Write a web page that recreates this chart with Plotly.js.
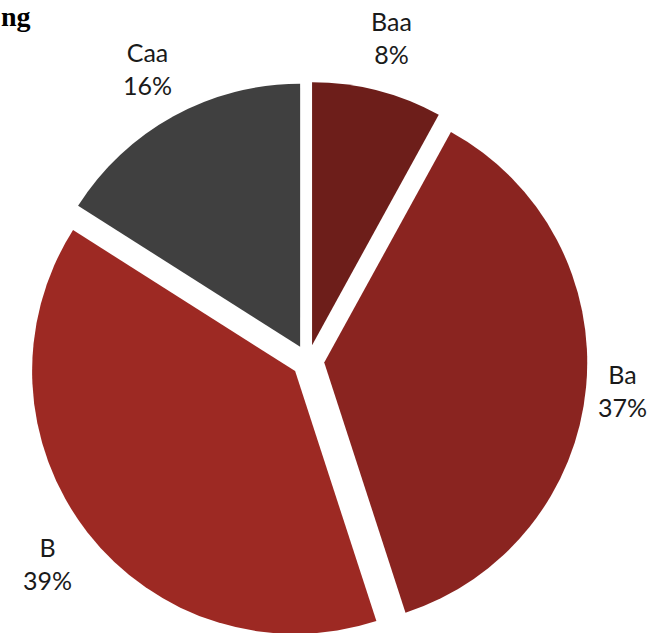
<!DOCTYPE html>
<html>
<head>
<meta charset="utf-8">
<script src="https://cdn.plot.ly/plotly-3.0.1.min.js"></script>
<style>
  html, body { margin: 0; padding: 0; overflow: hidden; background: #ffffff; }
  #chart { width: 664px; height: 650px; }
</style>
</head>
<body>
<div id="chart"></div>
<script>
// ---- data ----
const categories = ["Baa", "Ba", "B", "Caa"];
const shares = [8, 37, 39, 16];
const sliceColors = ["#6d1e1a", "#8a2420", "#9d2923", "#404040"];
const titleText = "ng";

// ---- layout constants (pixels) ----
const W = 664, H = 650;
const CX = 308, CY = 361, R = 263, PULL = 0.062;
const half = R * (1 + PULL);

const domainX = [(CX - half) / W, (CX + half) / W];
const domainY = [(H - (CY + half)) / H, (H - (CY - half)) / H];

const trace = {
  type: "pie",
  labels: categories,
  values: shares,
  sort: false,
  direction: "clockwise",
  rotation: 0,
  pull: categories.map(() => PULL),
  marker: { colors: sliceColors, line: { width: 0 } },
  textinfo: "none",
  hoverinfo: "none",
  showlegend: false,
  domain: { x: domainX, y: domainY }
};

// label annotations placed along each slice bisector, computed from data
const total = shares.reduce((a, b) => a + b, 0);
const annotations = [];
let cum = 0;
const gap = 20, hw = 14, hh = 32;
shares.forEach((v, i) => {
  const mid = (cum + v / 2) / total * 2 * Math.PI;
  cum += v;
  const sx = Math.sin(mid), sy = -Math.cos(mid);
  const ext = hw * Math.abs(sx) + hh * Math.abs(sy);
  const dist = R * (1 + PULL) + gap + ext;
  const px = CX + sx * dist, py = CY + sy * dist;
  annotations.push({
    xref: "paper", yref: "paper",
    x: px / W, y: (H - py) / H,
    xanchor: "center", yanchor: "middle",
    text: categories[i] + "<br>" + Math.round(v / total * 100) + "%",
    showarrow: false,
    font: { family: "Lato, 'Open Sans', sans-serif", size: 25, color: "#1a1a1a" }
  });
});

annotations.push({
  xref: "paper", yref: "paper",
  x: 0, y: 1,
  xanchor: "left", yanchor: "top",
  text: "<b>" + titleText + "</b>",
  showarrow: false,
  borderpad: 0,
  font: { family: "'Liberation Serif', 'DejaVu Serif', serif", size: 28, color: "#000000" }
});

const layout = {
  width: W, height: H,
  margin: { l: 0, r: 0, t: 0, b: 0 },
  paper_bgcolor: "#ffffff",
  plot_bgcolor: "#ffffff",
  showlegend: false,
  annotations: annotations
};

Plotly.newPlot("chart", [trace], layout, { staticPlot: true, displayModeBar: false });
</script>
</body>
</html>
